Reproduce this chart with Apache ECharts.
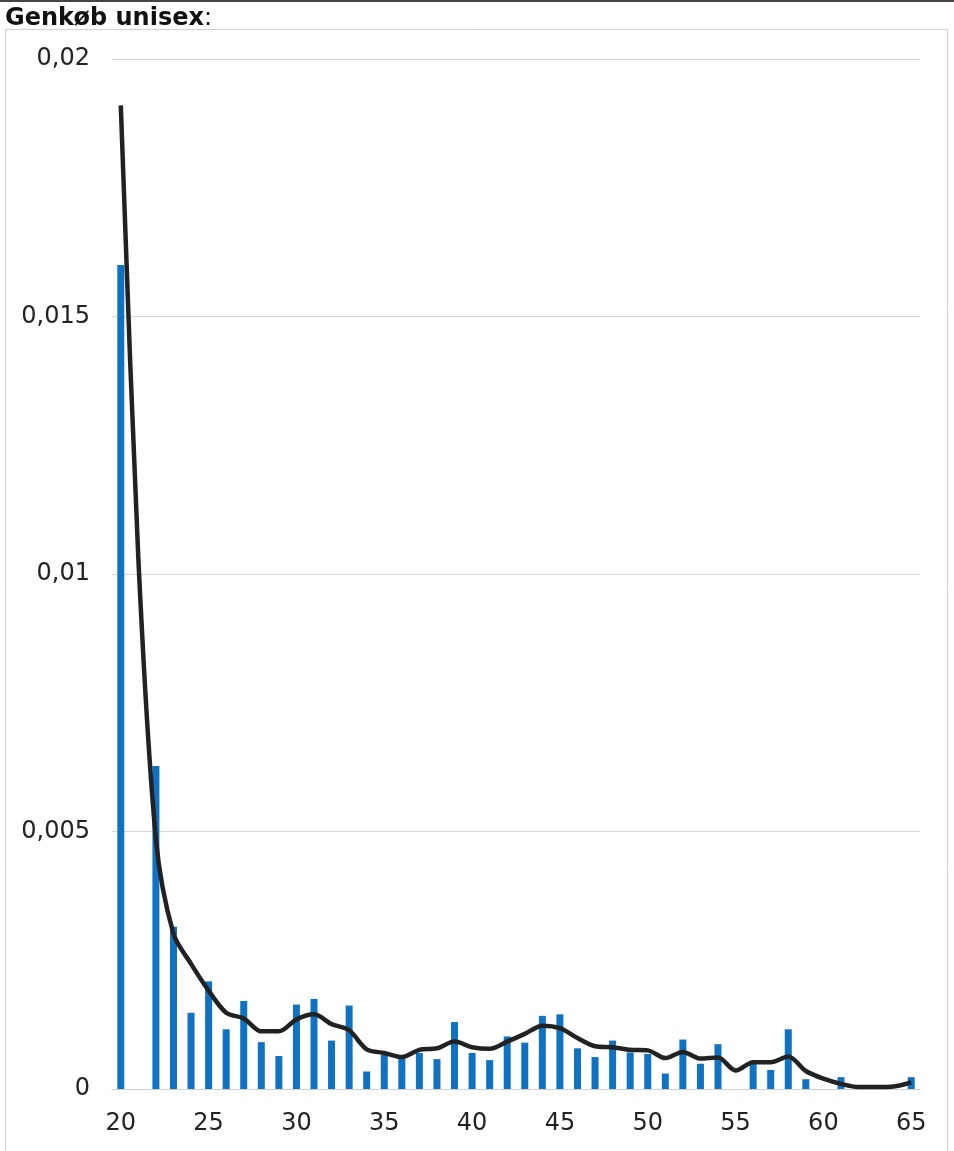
<!DOCTYPE html>
<html>
<head>
<meta charset="utf-8">
<script src="https://cdn.jsdelivr.net/npm/echarts@6/dist/echarts.min.js"></script>
<style>
html,body{margin:0;padding:0;background:#fff;}
#chart{width:954px;height:1151px;}
</style>
</head>
<body>
<div id="chart"></div>
<script>
var ages = ['20','21','22','23','24','25','26','27','28','29','30','31','32','33','34','35','36','37','38','39','40','41','42','43','44','45','46','47','48','49','50','51','52','53','54','55','56','57','58','59','60','61','62','63','64','65'];

var barValues = [0.0160,0,0.00627,0.00315,0.00148,0.00209,0.00116,0.00171,0.00091,0.00064,
  0.00164,0.00175,0.00094,0.00162,0.00034,0.00066,0.00060,0.00070,0.00058,0.00130,
  0.00070,0.00056,0.00102,0.00090,0.00142,0.00145,0.00079,0.00062,0.00094,0.00071,
  0.00068,0.00030,0.00096,0.00049,0.00087,0,0.00054,0.00037,0.00116,0.00019,
  0,0.00023,0,0,0,0.00023];

var lineValues = [0.0191,0.0103,0.00485,0.00301,0.00243,0.00191,0.00148,0.00137,0.00112,0.00112,
  0.00135,0.00145,0.00126,0.00114,0.00077,0.00070,0.00062,0.00076,0.00079,0.00092,
  0.00081,0.00078,0.00092,0.00107,0.00123,0.00118,0.00099,0.00083,0.00081,0.00076,
  0.00075,0.00060,0.00072,0.00059,0.00061,0.00036,0.00052,0.00052,0.00063,0.00035,
  0.00020,0.00010,0.00004,0.00004,0.00005,0.00013];

var yTicks = [0, 0.005, 0.01, 0.015, 0.02];

var chart = echarts.init(document.getElementById('chart'), null, {renderer:'canvas'});
var fontFam = '"DejaVu Sans", Verdana, sans-serif';
chart.setOption({
  backgroundColor:'#ffffff',
  animation:false,
  title:{
    left:0, top:2,
    text:'{b|Genkøb unisex}{n|:}',
    textStyle:{
      rich:{
        b:{fontFamily:fontFam, fontWeight:'bold', fontSize:24, color:'#111'},
        n:{fontFamily:fontFam, fontWeight:'normal', fontSize:24, color:'#111'}
      }
    }
  },
  graphic:[
    {type:'rect', shape:{x:0,y:0,width:954,height:2}, style:{fill:'#444'}, silent:true},
    {type:'rect', shape:{x:5.5,y:29.5,width:942,height:1140}, style:{fill:'none', stroke:'#cfcfcf', lineWidth:1}, silent:true}
  ],
  grid:{left:112, right:34, top:59, bottom:62, containLabel:false},
  xAxis:{
    type:'category',
    data:ages,
    boundaryGap:true,
    axisLine:{show:true, lineStyle:{color:'#d0d0d0', width:1}},
    axisTick:{show:false},
    axisLabel:{interval:4, color:'#222', fontFamily:fontFam, fontSize:24, margin:23}
  },
  yAxis:{
    type:'value',
    min:0, max:0.02, interval:0.005,
    axisLine:{show:false},
    axisTick:{show:false},
    splitLine:{show:true, lineStyle:{color:'#d6d6d6', width:1}},
    axisLabel:{
      color:'#222', fontFamily:fontFam, fontSize:24, margin:22,
      formatter:function(v){
        var t = yTicks.reduce(function(a,b){return Math.abs(b-v)<Math.abs(a-v)?b:a;});
        return String(t).replace('.', ',');
      }
    }
  },
  series:[
    {
      type:'bar',
      data:barValues,
      barWidth:7,
      itemStyle:{color:'#0f72c2'},
      z:2
    },
    {
      type:'line',
      data:lineValues,
      smooth:0.3,
      symbol:'none',
      lineStyle:{color:'#222222', width:4.5},
      z:3
    }
  ]
});
</script>
</body>
</html>
